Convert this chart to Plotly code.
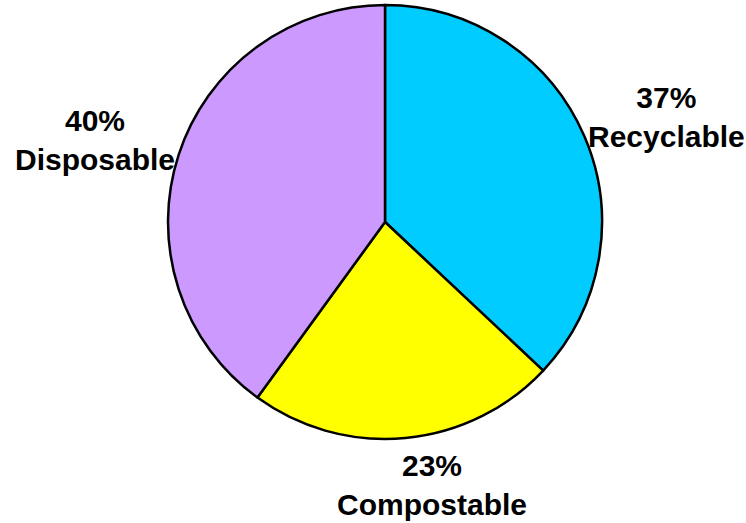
import math
import plotly.graph_objects as go

labels = ["Recyclable", "Compostable", "Disposable"]
values = [37, 23, 40]
colors = ["#00CCFF", "#FFFF00", "#CC99FF"]

W, H = 746, 523
margin = dict(l=0, r=0, t=5, b=84)
font_size = 30

fig = go.Figure(go.Pie(
    labels=labels,
    values=values,
    sort=False,
    direction="clockwise",
    rotation=0,
    automargin=False,
    domain=dict(x=[0.0322, 1], y=[0, 1]),
    marker=dict(colors=colors, line=dict(color="black", width=2.5)),
    textinfo="none",
    hoverinfo="label+percent",
))

# Outside labels placed from slice mid-angles (pixel geometry of the pie domain)
plot_w = W - margin["l"] - margin["r"]
plot_h = H - margin["t"] - margin["b"]
dx0, dx1 = 0.0322, 1.0
cx = margin["l"] + plot_w * (dx0 + dx1) / 2
cy = margin["t"] + plot_h / 2
radius = min(plot_w * (dx1 - dx0), plot_h) / 2
gap = 10
total = sum(values)
cum = 0
annotations = []
for lab, v in zip(labels, values):
    mid = (cum + v / 2) / total * 2 * math.pi
    cum += v
    ux, uy = math.sin(mid), -math.cos(mid)  # pixel direction, y downward
    ax = cx + (radius + gap) * ux
    ay = cy + (radius + gap) * uy
    bw = 0.51 * font_size * len(lab)
    bh = 2 * 1.25 * font_size
    px = ax + math.copysign(math.sqrt(abs(ux)), ux) * bw / 2
    py = ay + uy * bh / 2
    pct = round(v / total * 100)
    annotations.append(dict(
        x=(px - margin["l"]) / plot_w,
        y=1 - (py - margin["t"]) / plot_h,
        xref="paper", yref="paper",
        xanchor="center", yanchor="middle", showarrow=False, align="center",
        text=f"<b>{pct}%</b><br><b>{lab}</b>",
        font=dict(family="Liberation Sans", size=font_size, color="black"),
    ))

fig.update_layout(
    width=W, height=H,
    autosize=False,
    margin=dict(**margin, autoexpand=False),
    showlegend=False,
    paper_bgcolor="white",
    plot_bgcolor="white",
    annotations=annotations,
)
fig.write_html("out.html")
